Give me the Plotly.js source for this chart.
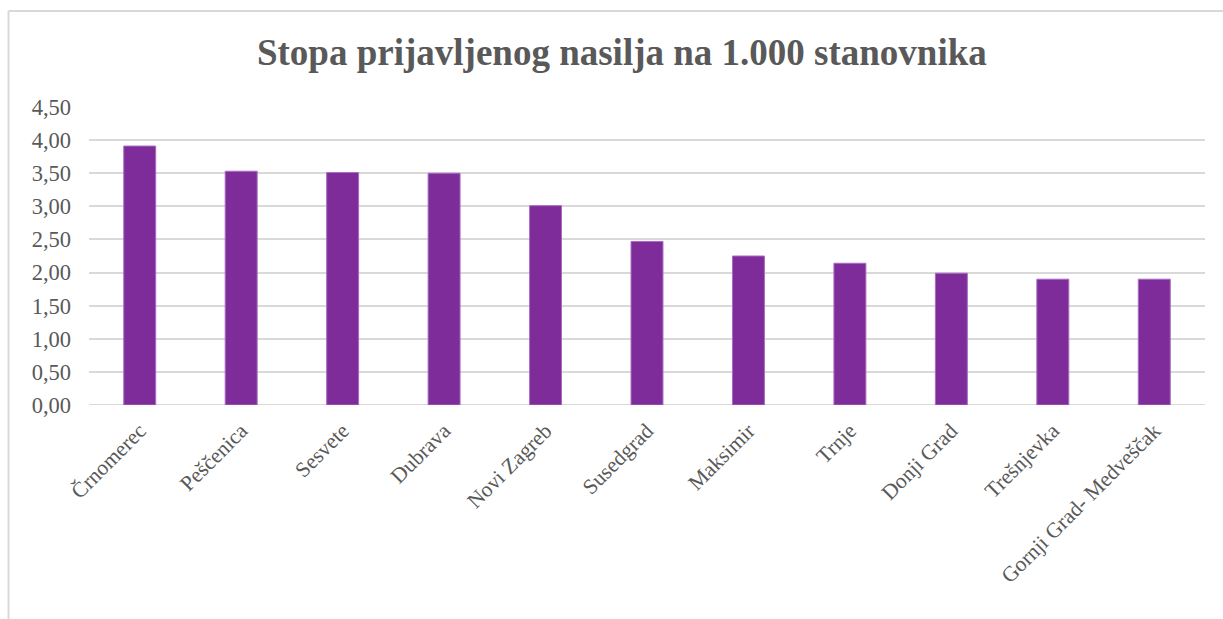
<!DOCTYPE html>
<html>
<head>
<meta charset="utf-8">
<script src="https://cdn.plot.ly/plotly-3.0.1.min.js"></script>
<style>html,body{margin:0;padding:0;background:#fff;}#chart{width:1223px;height:619px;}</style>
</head>
<body>
<div id="chart"></div>
<script>
const categories = ["Črnomerec", "Peščenica", "Sesvete", "Dubrava", "Novi Zagreb", "Susedgrad", "Maksimir", "Trnje", "Donji Grad", "Trešnjevka", "Gornji Grad- Medveščak"];
const values = [3.91, 3.53, 3.51, 3.50, 3.01, 2.47, 2.25, 2.14, 1.99, 1.90, 1.90];
const chartTitle = "Stopa prijavljenog nasilja na 1.000 stanovnika";

const trace = {
  type: "bar",
  x: categories,
  y: values,
  marker: {color: "#7F2C9B", line: {color: "#A86BC0", width: 1}},
  hoverinfo: "x+y"
};

const layout = {
  width: 1223, height: 619,
  margin: {l: 89, r: 18, t: 107, b: 214},
  paper_bgcolor: "#ffffff", plot_bgcolor: "#ffffff",
  separators: ",.",
  bargap: 0.685,
  showlegend: false,
  title: {
    text: "<b>" + chartTitle + "</b>",
    font: {family: "Liberation Serif", size: 37, color: "#595959"},
    x: 0.5085, xanchor: "center", y: 0.916, yanchor: "middle"
  },
  xaxis: {
    type: "category",
    tickangle: -45,
    tickfont: {family: "Liberation Serif", size: 21.5, color: "#595959"},
    ticklabelstandoff: 8,
    showgrid: false, zeroline: false, showline: false, ticks: ""
  },
  yaxis: {
    range: [0, 4.5], dtick: 0.5, tick0: 0,
    tickformat: ".2f",
    tickfont: {family: "Liberation Serif", size: 22.5, color: "#595959"},
    ticklabelstandoff: 17,
    gridcolor: "#D9D9D9", gridwidth: 2,
    zeroline: false, showline: false, ticks: "", ticklen: 0,
    automargin: false
  },
  shapes: [
    {type: "line", xref: "paper", yref: "paper", x0: -0.0721, x1: 1.1, y0: 1.3221, y1: 1.3221, line: {color: "#D9D9D9", width: 2}},
    {type: "line", xref: "paper", yref: "paper", x0: -0.0721, x1: -0.0721, y0: 1.3221, y1: -0.75, line: {color: "#D9D9D9", width: 2}},
    {type: "line", xref: "paper", yref: "y", x0: 0, x1: 1, y0: 0, y1: 0, line: {color: "#D9D9D9", width: 2}, layer: "below"}
  ]
};

Plotly.newPlot("chart", [trace], layout, {displayModeBar: false, staticPlot: true});
</script>
</body>
</html>
